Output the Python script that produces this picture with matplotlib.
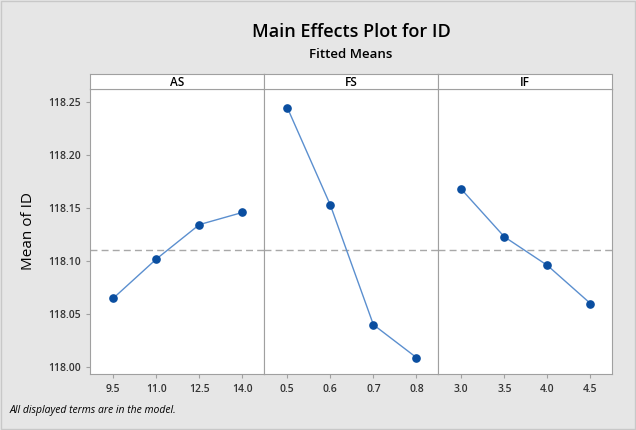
import matplotlib
matplotlib.use("Agg")
import matplotlib.pyplot as plt

# data
factors = ["AS", "FS", "IF"]
levels = {
    "AS": ["9.5", "11.0", "12.5", "14.0"],
    "FS": ["0.5", "0.6", "0.7", "0.8"],
    "IF": ["3.0", "3.5", "4.0", "4.5"],
}
means = {
    "AS": [118.065, 118.102, 118.1345, 118.146],
    "FS": [118.245, 118.153, 118.040, 118.009],
    "IF": [118.168, 118.123, 118.096, 118.060],
}
grand_mean = 118.111
yticks = [118.00, 118.05, 118.10, 118.15, 118.20, 118.25]

plt.rcParams['font.family'] = ['Open Sans', 'DejaVu Sans']
edge = "#a0a0a0"

fig = plt.figure(figsize=(6.36, 4.30), dpi=100, facecolor="#e6e6e6")
fig.patches.append(plt.Rectangle((0.002, 0.002), 0.996, 0.996, transform=fig.transFigure,
                                 fill=False, edgecolor="#c8c8c8", lw=1))

left, right = 90 / 636, 612 / 636
bottom, top = 1 - 374 / 430, 1 - 89 / 430
strip_h = 15 / 430
w = (right - left) / 3

for i, f in enumerate(factors):
    ax = fig.add_axes([left + i * w, bottom, w, top - bottom])
    x = range(len(levels[f]))
    ax.axhline(grand_mean, color="#a8a8a8", lw=1, ls=(0, (5, 3)))
    ax.plot(x, means[f], color="#5b8fcf", lw=1, marker="o", ms=5.2,
            mfc="#0a4ea0", mec="#0a4ea0")
    ax.set_xlim(-0.54, 3.5)
    ax.set_ylim(117.9935, 118.2625)
    ax.set_xticks(list(x))
    ax.set_xticklabels(levels[f], fontweight="semibold")
    ax.tick_params(axis="x", length=3, color=edge, labelsize=7.5, pad=4, labelcolor="#333333")
    for s in ax.spines.values():
        s.set_color(edge)
    if i == 0:
        ax.set_yticks(yticks)
        ax.set_yticklabels(["%.2f" % v for v in yticks], fontweight="semibold")
        ax.tick_params(axis="y", length=3, color=edge, labelsize=7.5, labelcolor="#333333")
        ax.set_ylabel("Mean of ID", fontsize=11, labelpad=9)
    else:
        ax.set_yticks([])

    # strip header
    sx = fig.add_axes([left + i * w, top, w, strip_h])
    sx.set_xticks([])
    sx.set_yticks([])
    for s in sx.spines.values():
        s.set_color(edge)
    sx.text(0.5, 0.45, f, ha="center", va="center", fontsize=8.5, fontweight="semibold",
            transform=sx.transAxes)

cx = (left + right) / 2
fig.text(cx, 1 - 32 / 430, "Main Effects Plot for ID", ha="center", va="center",
         fontsize=13, fontweight="semibold")
fig.text(cx, 1 - 55 / 430, "Fitted Means", ha="center", va="center",
         fontsize=9.5, fontweight="semibold")
fig.text(10 / 636, 1 - 411 / 430, "All displayed terms are in the model.", ha="left",
         va="center", fontsize=7.5, style="italic")

fig.savefig("out.png", dpi=100, facecolor=fig.get_facecolor())
